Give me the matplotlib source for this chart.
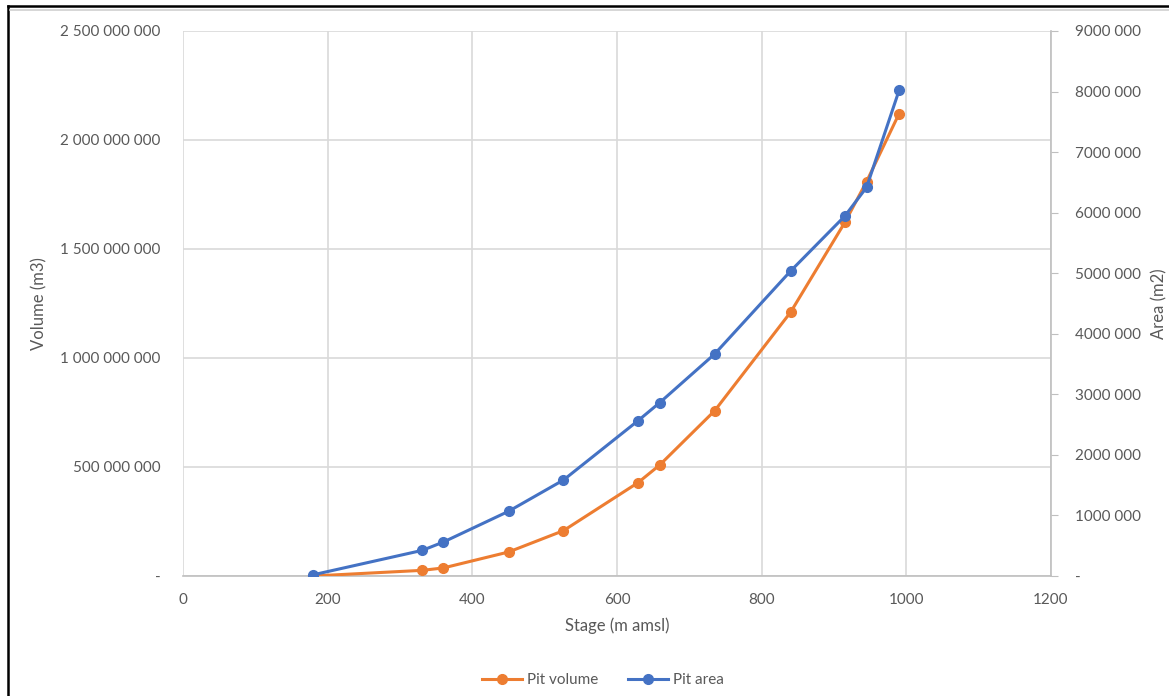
import matplotlib
matplotlib.use("Agg")
import matplotlib.pyplot as plt
from matplotlib.lines import Line2D
from matplotlib.ticker import FuncFormatter

# --- Dane ---
stage = [180, 331, 360, 450, 526, 629, 659, 735, 840, 915, 945, 990]
pit_volume = [0, 26e6, 37e6, 110e6, 208e6, 428e6, 509e6, 758e6,
              1210e6, 1622e6, 1809e6, 2121e6]
pit_area = [20e3, 424e3, 561e3, 1068e3, 1585e3, 2564e3, 2862e3, 3666e3,
            5036e3, 5944e3, 6418e3, 8020e3]

x_ticks = [0, 200, 400, 600, 800, 1000, 1200]
vol_ticks = [0, 500e6, 1000e6, 1500e6, 2000e6, 2500e6]
area_ticks = [0, 1e6, 2e6, 3e6, 4e6, 5e6, 6e6, 7e6, 8e6, 9e6]

ORANGE = "#ED7D31"
BLUE = "#4472C4"
TXT = "#595959"
GRID = "#d9d9d9"

plt.rcParams["font.family"] = ["Lato", "DejaVu Sans"]


def fmt_vol(v, pos):
    if v == 0:
        return "-"
    return f"{int(v):,}".replace(",", " ")


def fmt_area(v, pos):
    if v == 0:
        return "-"
    s = f"{int(v):d}"
    return s[:-3] + " " + s[-3:]


fig = plt.figure(figsize=(11.69, 6.96), dpi=100)
ax = fig.add_axes([183 / 1169, 1 - 576 / 696, (1051 - 183) / 1169, (576 - 31) / 696])
ax2 = ax.twinx()

ax.plot(stage, pit_volume, color=ORANGE, lw=2.2, marker="o", ms=7, zorder=3)
ax2.plot(stage, pit_area, color=BLUE, lw=2.2, marker="o", ms=7, zorder=3)

ax.set_xlim(0, 1200)
ax.set_ylim(0, 2.5e9)
ax2.set_ylim(0, 9e6)
ax.set_xticks(x_ticks)
ax.set_yticks(vol_ticks)
ax2.set_yticks(area_ticks)
ax.yaxis.set_major_formatter(FuncFormatter(fmt_vol))
ax2.yaxis.set_major_formatter(FuncFormatter(fmt_area))

ax.grid(True, color=GRID, lw=1.2)
ax.set_axisbelow(True)

for a in (ax, ax2):
    for s in a.spines.values():
        s.set_visible(False)
ax.spines["bottom"].set_visible(True)
ax.spines["bottom"].set_color("#bfbfbf")
ax.spines["bottom"].set_linewidth(1.2)
ax2.spines["right"].set_visible(True)
ax2.spines["right"].set_color("#bfbfbf")
ax2.spines["right"].set_linewidth(1.2)

ax.tick_params(axis="both", length=0, labelsize=11, labelcolor=TXT)
ax.tick_params(axis="y", pad=16)
ax.tick_params(axis="x", pad=12)
ax2.tick_params(axis="y", length=5, direction="out", color="#bfbfbf",
                labelsize=11, labelcolor=TXT, pad=12)

ax.set_xlabel("Stage (m amsl)", fontsize=12, color=TXT, labelpad=8)
ax.set_ylabel("Volume (m3)", fontsize=12, color=TXT, labelpad=9)
ax2.set_ylabel("Area (m2)", fontsize=12, color=TXT, rotation=90, labelpad=8)

handles = [
    Line2D([], [], color=ORANGE, lw=2.2, marker="o", ms=7),
    Line2D([], [], color=BLUE, lw=2.2, marker="o", ms=7),
]
fig.legend(handles, ["Pit volume", "Pit area"], loc="center",
           bbox_to_anchor=(603 / 1169, 1 - 680 / 696), ncol=2, frameon=False,
           fontsize=11, labelcolor=TXT, handlelength=2.6, columnspacing=2.0,
           handletextpad=0.3)

# ramka obrazu (lewa i górna krawędź)
fig.add_artist(Line2D([8 / 1169, 8 / 1169], [0, 1 - 6 / 696], color="black",
                      lw=1.8, transform=fig.transFigure))
fig.add_artist(Line2D([8 / 1169, 1], [1 - 6 / 696, 1 - 6 / 696], color="black",
                      lw=1.8, transform=fig.transFigure))
fig.add_artist(Line2D([10 / 1169, 1], [1 - 9.5 / 696, 1 - 9.5 / 696],
                      color="#d0d0d0", lw=1.2, transform=fig.transFigure))

fig.savefig("out.png", dpi=100, facecolor="white")
